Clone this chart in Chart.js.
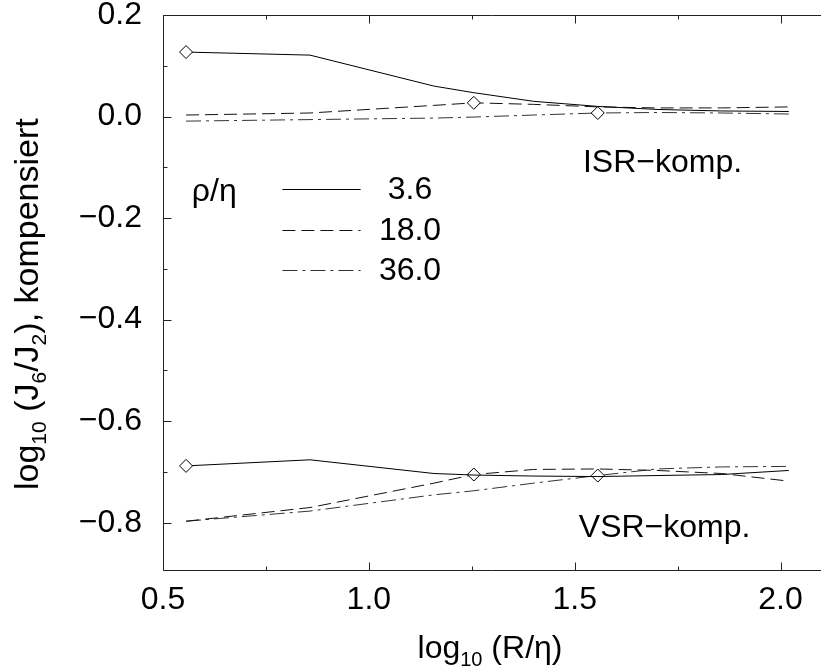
<!DOCTYPE html>
<html>
<head>
<meta charset="utf-8">
<script src="https://cdn.jsdelivr.net/npm/chart.js@4.4.0/dist/chart.umd.min.js"></script>
<style>
    html, body { margin: 0; padding: 0; background: #fff; overflow: hidden; }
    #wrap { position: relative; width: 821px; height: 671px; }
</style>
</head>
<body>
<div id="wrap"><canvas id="chart" width="821" height="671"></canvas></div>
<script>
// x positions: log10(R/eta)
const xValues = [0.556, 0.857, 1.158, 1.255, 1.40, 1.556, 1.70, 1.857, 2.02];

// ISR-compensated curves, one per rho/eta
const isr36 = [0.127, 0.121, 0.060, 0.047, 0.030, 0.020, 0.014, 0.011, 0.010];
const isr180 = [0.003, 0.007, 0.022, 0.027, 0.024, 0.019, 0.017, 0.017, 0.019];
const isr360 = [-0.009, -0.006, -0.003, -0.001, 0.003, 0.007, 0.008, 0.007, 0.005];

// VSR-compensated curves
const vsr36 = [-0.688, -0.676, -0.703, -0.706, -0.708, -0.709, -0.707, -0.705, -0.697];
const vsr180 = [-0.797, -0.770, -0.722, -0.705, -0.695, -0.694, -0.697, -0.703, -0.718];
const vsr360 = [-0.797, -0.777, -0.745, -0.737, -0.722, -0.707, -0.694, -0.690, -0.689];

// legend entries and the point where R = rho (diamond marker)
const rhoLabels = ['3.6', '18.0', '36.0'];
const markIndex = [0, 3, 5];

// axis ticks
const xTicks = [0.5, 1.0, 1.5, 2.0];
const xMinorTicks = [0.75, 1.25, 1.75];
const yTicks = [-0.8, -0.6, -0.4, -0.2, 0.0, 0.2];
const yMinorTicks = [-0.7, -0.5, -0.3, -0.1, 0.1];

const FONT = "'Liberation Sans', Arial, sans-serif";
const FONT_SIZE = 32;
const lineStyles = [
    { dash: [], color: '#000' },
    { dash: [13, 6], color: '#111' },
    { dash: [15, 5, 3, 5], color: '#333' }
];

function makeDataset(values, k) {
    return {
        data: xValues.map((x, i) => ({ x: x, y: values[i] })),
        borderColor: lineStyles[k].color,
        borderWidth: 1,
        borderDash: lineStyles[k].dash,
        fill: false,
        tension: 0,
        pointStyle: 'rectRot',
        pointRadius: xValues.map((_, i) => i === markIndex[k] ? 6.5 : 0),
        pointBackgroundColor: '#fff',
        pointBorderColor: '#000',
        pointBorderWidth: 1
    };
}

// draws a string with subscript parts, parts = [[text, isSub], ...]
function drawSubText(ctx, parts, x, y, size, align) {
    const subSize = Math.round(size * 0.62);
    let total = 0;
    parts.forEach(p => {
        ctx.font = (p[1] ? subSize : size) + 'px ' + FONT;
        total += ctx.measureText(p[0]).width;
    });
    let cx = align === 'center' ? x - total / 2 : x;
    ctx.textAlign = 'left';
    ctx.textBaseline = 'alphabetic';
    parts.forEach(p => {
        ctx.font = (p[1] ? subSize : size) + 'px ' + FONT;
        ctx.fillText(p[0], cx, y + (p[1] ? size * 0.24 : 0));
        cx += ctx.measureText(p[0]).width;
    });
}

const framePlugin = {
    id: 'frame',
    afterDraw(chart) {
        const ctx = chart.ctx;
        const a = chart.chartArea;
        const xs = chart.scales.x;
        const ys = chart.scales.y;
        const L = Math.round(a.left) + 0.5;
        const T = Math.round(a.top) + 0.5;
        const B = Math.round(a.bottom) - 0.5;
        const R = chart.width + 5;

        ctx.save();
        ctx.strokeStyle = '#222';
        ctx.lineWidth = 1;
        ctx.setLineDash([]);
        ctx.beginPath();
        ctx.moveTo(R, T); ctx.lineTo(L, T); ctx.lineTo(L, B); ctx.lineTo(R, B);

        // inward ticks
        const xt = (v, len) => {
            const px = Math.round(xs.getPixelForValue(v)) + 0.5;
            ctx.moveTo(px, B); ctx.lineTo(px, B - len);
            ctx.moveTo(px, T); ctx.lineTo(px, T + len);
        };
        const yt = (v, len) => {
            const py = Math.round(ys.getPixelForValue(v)) + 0.5;
            ctx.moveTo(L, py); ctx.lineTo(L + len, py);
        };
        xTicks.forEach(v => xt(v, 8));
        xMinorTicks.forEach(v => xt(v, 4));
        yTicks.forEach(v => yt(v, 8));
        yMinorTicks.forEach(v => yt(v, 4));
        ctx.stroke();

        // legend
        ctx.fillStyle = '#000';
        ctx.font = FONT_SIZE + 'px ' + FONT;
        ctx.textBaseline = 'middle';
        ctx.textAlign = 'left';
        ctx.fillText('\u03C1/\u03B7', xs.getPixelForValue(0.57), ys.getPixelForValue(-0.148));
        const rowY = [-0.143, -0.223, -0.303];
        rhoLabels.forEach((lab, k) => {
            const py = Math.round(ys.getPixelForValue(rowY[k])) + 0.5;
            ctx.strokeStyle = lineStyles[k].color;
            ctx.setLineDash(lineStyles[k].dash);
            ctx.beginPath();
            ctx.moveTo(xs.getPixelForValue(0.79), py);
            ctx.lineTo(xs.getPixelForValue(0.98), py);
            ctx.stroke();
            ctx.setLineDash([]);
            ctx.textAlign = 'center';
            ctx.fillText(lab, xs.getPixelForValue(1.10), py + 1);
        });

        // curve group labels
        ctx.textAlign = 'left';
        ctx.fillText('ISR\u2212komp.', xs.getPixelForValue(1.52), ys.getPixelForValue(-0.091));
        ctx.fillText('VSR\u2212komp.', xs.getPixelForValue(1.51), ys.getPixelForValue(-0.81));

        // axis titles
        drawSubText(ctx, [['log', false], ['10', true], [' (R/\u03B7)', false]], 490, 658, FONT_SIZE, 'center');
        ctx.translate(38, 490);
        ctx.rotate(-Math.PI / 2);
        drawSubText(ctx, [['log', false], ['10', true], [' (J', false], ['6', true], ['/J', false], ['2', true], ['), kompensiert', false]], 0, 0, 34, 'left');
        ctx.restore();
    }
};

const datasets = [
    makeDataset(isr36, 0), makeDataset(isr180, 1), makeDataset(isr360, 2),
    makeDataset(vsr36, 0), makeDataset(vsr180, 1), makeDataset(vsr360, 2)
];

new Chart(document.getElementById('chart'), {
    type: 'line',
    data: { datasets: datasets },
    options: {
        responsive: false,
        animation: false,
        devicePixelRatio: 1,
        layout: { padding: { top: 15, right: 0, left: 0, bottom: 0 } },
        plugins: { legend: { display: false }, tooltip: { enabled: false } },
        scales: {
            x: {
                type: 'linear',
                min: 0.5,
                max: 2.08,
                grid: { display: false, drawTicks: false },
                border: { display: false },
                afterBuildTicks: s => { s.ticks = xTicks.map(v => ({ value: v })); },
                afterFit: s => { s.height = 100; s.paddingLeft = 0; s.paddingRight = 0; },
                ticks: {
                    padding: 10,
                    color: '#000',
                    font: { family: FONT, size: FONT_SIZE },
                    callback: v => v.toFixed(1)
                }
            },
            y: {
                type: 'linear',
                min: -0.895,
                max: 0.2,
                grid: { display: false, drawTicks: false },
                border: { display: false },
                afterBuildTicks: s => { s.ticks = yTicks.map(v => ({ value: v })); },
                afterFit: s => { s.width = 163; s.paddingTop = 0; s.paddingBottom = 0; },
                ticks: {
                    padding: 21,
                    color: '#000',
                    font: { family: FONT, size: FONT_SIZE },
                    callback: v => (v < 0 ? '\u2212' : '') + Math.abs(v).toFixed(1)
                }
            }
        }
    },
    plugins: [framePlugin]
});
</script>
</body>
</html>
